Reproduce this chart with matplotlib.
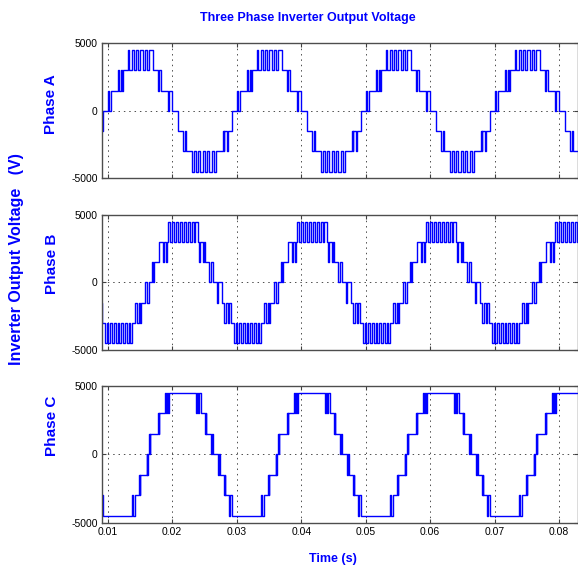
import numpy as np
import matplotlib
matplotlib.use('Agg')
import matplotlib.pyplot as plt
from matplotlib.ticker import FormatStrFormatter

plt.rcParams['axes.unicode_minus'] = False

period = 0.02          # s
dc_step = 1500         # V per inverter level

# one period of each phase:
# edge time (ms from cycle start) and the level held after that edge
a_ms = [0, 0.26, 0.47, 1.03, 1.86, 2.07, 2.33, 3.36, 3.62, 3.82, 3.98, 4.13,
        4.91, 5.17, 5.53, 5.84, 6.20, 6.56, 6.87, 7.24, 7.60, 7.91, 8.27, 8.79,
        9.56, 9.77, 10.08, 11.11, 11.37, 11.78, 12.66, 13.54, 13.75, 13.95,
        14.83, 15.14, 15.50, 15.87, 16.18, 16.54, 16.90, 17.21, 17.57, 17.93,
        18.24, 18.60, 19.64, 19.79, 19.90]
a_lvl = [-1, -2, -1, 0, 1, 0, 1, 2, 1, 2, 1, 2,
         3, 2, 3, 2, 3, 2, 3, 2, 3, 2, 3, 2,
         1, 2, 1, 0, 1, 0, -1, -2, -1, -2,
         -3, -2, -3, -2, -3, -2, -3, -2, -3, -2,
         -3, -2, -1, -2, -1]
a_starts = [-0.011814, 0.008186, 0.028186, 0.048186, 0.068186]

b_ms = [0, 0.26, 0.52, 0.72, 0.88, 1.14, 1.45, 1.76, 2.07, 2.33, 2.69, 2.95,
        3.26, 3.51, 3.88, 4.13, 4.50, 4.75, 5.06, 5.32, 5.68, 5.94, 6.10, 6.46,
        6.61, 6.82, 7.49, 7.75, 8.01, 8.68, 8.89, 9.41, 9.82, 10.03, 10.34,
        10.54, 10.85, 11.27, 11.58, 11.83, 12.14, 12.40, 12.71, 12.97, 13.28,
        13.54, 13.85, 14.11, 14.42, 14.68, 14.99, 15.25, 15.50, 16.02, 16.23,
        16.54, 16.74, 16.90, 17.57, 17.78, 18.09, 18.60, 18.81, 18.91, 19.64]
b_lvl = [2, 1, 2, 1, 2, 3, 2, 3, 2, 3, 2, 3,
         2, 3, 2, 3, 2, 3, 2, 3, 2, 1, 2, 1,
         2, 1, 0, 1, 0, -1, 0, -1, -2, -1, -2,
         -1, -2, -3, -2, -3, -2, -3, -2, -3, -2,
         -3, -2, -3, -2, -3, -2, -3, -2, -1, -2,
         -1, -2, -1, 0, -1, 0, 1, 0, 1, 2]
b_starts = [-0.021736, -0.001736, 0.018264, 0.038264, 0.058264, 0.078264]

c_ms = [0, 0.62, 0.78, 0.93, 1.09, 1.29, 5.43, 5.58, 5.79, 5.94, 6.20,
        6.80, 6.90, 6.98, 7.75, 7.91, 8.11, 8.79, 8.94, 9.10, 9.80, 9.90, 9.97,
        10.59, 10.75, 10.96, 15.50, 15.71, 15.97, 16.60, 16.70, 16.80,
        17.80, 17.87, 17.93, 18.20, 18.30, 18.35, 19.54, 19.64, 19.74]
c_lvl = [2, 3, 2, 3, 2, 3, 2, 3, 2, 3, 2,
         1, 2, 1, 0, 1, 0, -1, 0, -1, -2, -1, -2,
         -3, -2, -3, -2, -3, -2, -1, -2, -1,
         0, -1, 0, 1, 0, 1, 2, 1, 2]
c_starts = [-0.021736, -0.001736, 0.018264, 0.038264, 0.058264, 0.078264]

phases = [('Phase A', a_ms, a_lvl, a_starts),
          ('Phase B', b_ms, b_lvl, b_starts),
          ('Phase C', c_ms, c_lvl, c_starts)]

x_ticks = [0.01, 0.02, 0.03, 0.04, 0.05, 0.06, 0.07, 0.08]
y_ticks = [-5000, 0, 5000]

font = ['Liberation Sans', 'DejaVu Sans']

fig = plt.figure(figsize=(5.78, 5.69), dpi=100)
boxes = [[0.176, 0.6866, 0.824, 0.2373],
         [0.176, 0.3849, 0.824, 0.2373],
         [0.176, 0.0814, 0.824, 0.2408]]
label_xy = [(0.0874, 0.817), (0.090, 0.5366), (0.090, 0.2513)]

for i, (name, ms, lvl, starts) in enumerate(phases):
    ax = fig.add_axes(boxes[i])
    t = np.concatenate([s + np.array(ms) / 1000.0 for s in starts])
    v = np.concatenate([np.array(lvl) * dc_step for s in starts])
    ax.step(t, v, where='post', color='blue', lw=1.0)

    ax.set_xlim(0.00907, 0.08292)
    ax.set_ylim(-5000, 5000)
    ax.set_xticks(x_ticks)
    ax.set_yticks(y_ticks)
    ax.xaxis.set_major_formatter(FormatStrFormatter('%.2f'))
    ax.grid(True, color='0.3', lw=0.7, linestyle=(0, (1.5, 4)))
    ax.tick_params(direction='in', top=True, right=True, length=3,
                   width=0.8, color='0.25', labelsize=7.5, pad=3)
    for lab in ax.get_xticklabels() + ax.get_yticklabels():
        lab.set_family(font)
    if i < 2:
        ax.tick_params(labelbottom=False)
    for sp in ax.spines.values():
        sp.set_color('0.3')
        sp.set_linewidth(1.0)

    fig.text(label_xy[i][0], label_xy[i][1], name, rotation=90, color='blue',
             fontsize=11, fontweight='bold', family=font,
             ha='center', va='center')

fig.text(0.533, 0.968, 'Three Phase Inverter Output Voltage', color='blue',
         fontsize=9, fontweight='bold', family=font, ha='center', va='center')
fig.text(0.029, 0.545, 'Inverter Output Voltage   (V)', rotation=90,
         color='blue', fontsize=11.5, fontweight='bold', family=font,
         ha='center', va='center')
fig.text(0.576, 0.0176, 'Time (s)', color='blue', fontsize=9,
         fontweight='bold', family=font, ha='center', va='center')

fig.savefig('out.png', dpi=100)
